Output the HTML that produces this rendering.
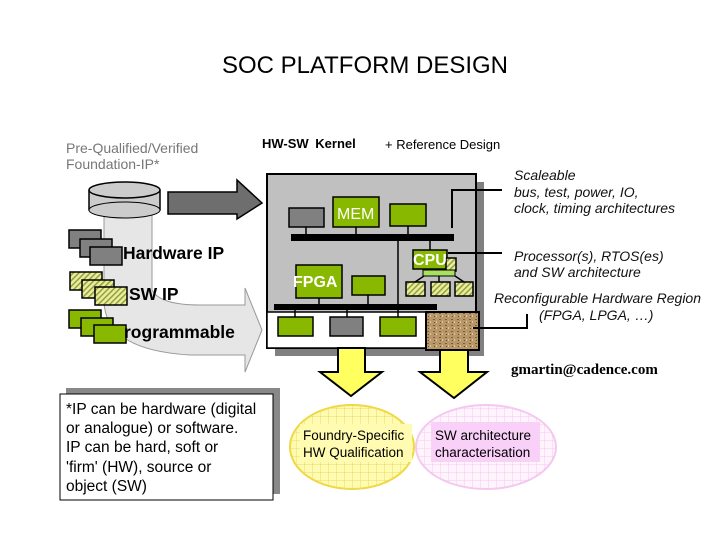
<!DOCTYPE html>
<html><head><meta charset="utf-8"><style>
html,body{margin:0;padding:0;background:#fff;}
svg{display:block;font-family:"Liberation Sans",sans-serif;}
</style></head><body>
<svg width="720" height="540" viewBox="0 0 720 540" xmlns="http://www.w3.org/2000/svg">
<defs>
<pattern id="hatch" width="4" height="4" patternUnits="userSpaceOnUse" patternTransform="rotate(45)">
<rect width="4" height="4" fill="#e8f0a0"/><rect width="1.6" height="4" fill="#9aa040"/></pattern>
<pattern id="grid" width="8" height="8" patternUnits="userSpaceOnUse">
<rect width="8" height="8" fill="none"/><path d="M0 0H8M0 0V8" stroke="#e8d870" stroke-width="1"/></pattern>
<pattern id="gridp" width="8" height="8" patternUnits="userSpaceOnUse">
<path d="M0 0H8M0 0V8" stroke="#f0c8f0" stroke-width="1"/></pattern>
<pattern id="sand" width="6" height="6" patternUnits="userSpaceOnUse">
<rect width="6" height="6" fill="#b89868"/><rect x="1" y="1" width="2" height="1" fill="#7a5c38"/><rect x="4" y="3" width="1" height="2" fill="#dcc8a0"/><rect x="2" y="4" width="1" height="1" fill="#6a4c2c"/></pattern>
</defs>

<text x="365" y="73" font-size="24" text-anchor="middle" textLength="286" lengthAdjust="spacingAndGlyphs">SOC PLATFORM DESIGN</text>
<text x="66" y="153" font-size="14" fill="#777">Pre-Qualified/Verified</text>
<text x="66" y="169" font-size="14" fill="#777">Foundation-IP*</text>
<text x="262" y="148" font-size="13" font-weight="bold" word-spacing="3">HW-SW  Kernel</text>
<text x="385" y="149" font-size="13">+ Reference Design</text>

<path d="M104 212 L152 212 L152 290 Q160 305 200 305 L245 305 L245 288 L262 330 L245 372 L245 355 L190 355 Q104 350 104 300 Z" fill="#e6e6e6" stroke="#999" stroke-width="1"/>

<path d="M89 190 V210 A36 8 0 0 0 160 210 V190" fill="#ccc" stroke="#000" stroke-width="1.5"/>
<ellipse cx="124.5" cy="210" rx="35.5" ry="8" fill="#ccc" stroke="#000" stroke-width="1"/>
<ellipse cx="124.5" cy="190" rx="35.5" ry="8" fill="#ccc" stroke="#000" stroke-width="1.5"/>

<path d="M168 192 H237 V180 L262 203 L237 219 V214 H168 Z" fill="#6e6e6e" stroke="#000" stroke-width="1.5"/>

<g stroke="#000" stroke-width="1.5">
<rect x="69" y="230" width="32" height="18" fill="#808080"/>
<rect x="80" y="239" width="32" height="18" fill="#808080"/>
<rect x="90" y="247" width="32" height="18" fill="#808080"/>
<rect x="70" y="272" width="32" height="18" fill="url(#hatch)"/>
<rect x="82" y="280" width="32" height="18" fill="url(#hatch)"/>
<rect x="95" y="287" width="32" height="18" fill="url(#hatch)"/>
<rect x="69" y="310" width="32" height="18" fill="#88b800"/>
<rect x="81" y="318" width="32" height="18" fill="#88b800"/>
<rect x="94" y="325" width="32" height="18" fill="#88b800"/>
</g>
<g font-size="17.5" font-weight="bold">
<text x="123" y="259">Hardware IP</text>
<text x="129" y="300">SW IP</text>
<text x="124" y="338">rogrammable</text>
</g>

<rect x="275" y="182" width="209" height="174" fill="#808080"/>
<rect x="267" y="174" width="209" height="174" fill="#c0c0c0" stroke="#000" stroke-width="2"/>
<rect x="267" y="312" width="159" height="36" fill="#fff" stroke="#000" stroke-width="1.5"/>
<rect x="426" y="312" width="53" height="38" fill="url(#sand)" stroke="#000" stroke-width="2"/>
<g stroke="#000" stroke-width="1.5">
<rect x="289" y="208" width="35" height="19" fill="#808080"/>
<rect x="333" y="197" width="46" height="30" fill="#88b800"/>
<rect x="390" y="204" width="36" height="22" fill="#88b800"/>
<rect x="296" y="265" width="46" height="33" fill="#88b800"/>
<rect x="352" y="276" width="33" height="19" fill="#88b800"/>
<rect x="278" y="317" width="35" height="19" fill="#88b800"/>
<rect x="330" y="317" width="33" height="19" fill="#808080"/>
<rect x="380" y="317" width="36" height="19" fill="#88b800"/>
<rect x="413" y="250" width="34" height="19" fill="#88b800"/>
<rect x="446" y="258" width="10" height="13" fill="url(#hatch)"/>
<rect x="406" y="282" width="19" height="14" fill="url(#hatch)"/>
<rect x="431" y="282" width="19" height="14" fill="url(#hatch)"/>
<rect x="455" y="282" width="18" height="14" fill="url(#hatch)"/>
</g>
<rect x="423" y="270" width="32" height="6" fill="#a8e060" stroke="#000" stroke-width="1"/>
<g stroke="#000" stroke-width="1.5" fill="none">
<path d="M306 227V234M356 227V234M408 226V234M430 241V250M319 298V304M368 295V304M295 310V317M347 310V317M398 241V317"/>
<path d="M424 276L415 282M439 276V282M455 276L464 282"/>
</g>
<rect x="291" y="234" width="163" height="7" fill="#000"/>
<rect x="274" y="304" width="163" height="6" fill="#000"/>
<g font-size="16" fill="#fff">
<text x="337" y="219">MEM</text>
<text x="293" y="287" font-weight="bold">FPGA</text>
<text x="413" y="265" font-weight="bold">CPU</text>
</g>

<g stroke="#000" stroke-width="2" fill="none">
<path d="M502 190H452V228"/>
<path d="M502 253H448"/>
<path d="M527 314V328H473"/>
</g>
<g font-size="14" font-style="italic" fill="#111">
<text x="514" y="180">Scaleable</text>
<text x="514" y="197">bus, test, power, IO,</text>
<text x="514" y="213">clock, timing architectures</text>
<text x="514" y="261">Processor(s), RTOS(es)</text>
<text x="514" y="277">and SW architecture</text>
<text x="494" y="303">Reconfigurable Hardware Region</text>
<text x="539" y="320">(FPGA, LPGA, …)</text>
</g>
<text x="511" y="374" font-size="15" font-weight="bold" font-family="Liberation Serif,serif">gmartin@cadence.com</text>

<g fill="#ffff60" stroke="#000" stroke-width="2">
<path d="M338 348H365V372H382L351 396L320 372H338Z"/>
<path d="M440 350H468V372H487L454 398L420 372H440Z"/>
</g>

<ellipse cx="352" cy="447" rx="62" ry="42" fill="#fffbb0" stroke="#f0d840" stroke-width="2"/>
<ellipse cx="352" cy="447" rx="62" ry="42" fill="url(#grid)"/>
<ellipse cx="486" cy="447" rx="70" ry="42" fill="#fff4fc" stroke="#f4c8f0" stroke-width="2"/>
<ellipse cx="486" cy="447" rx="70" ry="42" fill="url(#gridp)"/>
<rect x="300" y="424" width="112" height="38" fill="#fffbb0"/>
<rect x="431" y="422" width="109" height="40" fill="#f8d0f8"/>
<g font-size="13.5">
<text x="303" y="440">Foundry-Specific</text>
<text x="303" y="457">HW Qualification</text>
<text x="435" y="440">SW architecture</text>
<text x="435" y="457">characterisation</text>
</g>

<rect x="66" y="388" width="214" height="106" fill="#888"/>
<rect x="60" y="394" width="213" height="106" fill="#fff" stroke="#000" stroke-width="1"/>
<g font-size="15.5">
<text x="66" y="414">*IP can be hardware (digital</text>
<text x="66" y="433"> or analogue) or software.</text>
<text x="66" y="452"> IP can be hard, soft or</text>
<text x="66" y="472">'firm' (HW), source or</text>
<text x="66" y="491">object (SW)</text>
</g>
</svg>
</body></html>
